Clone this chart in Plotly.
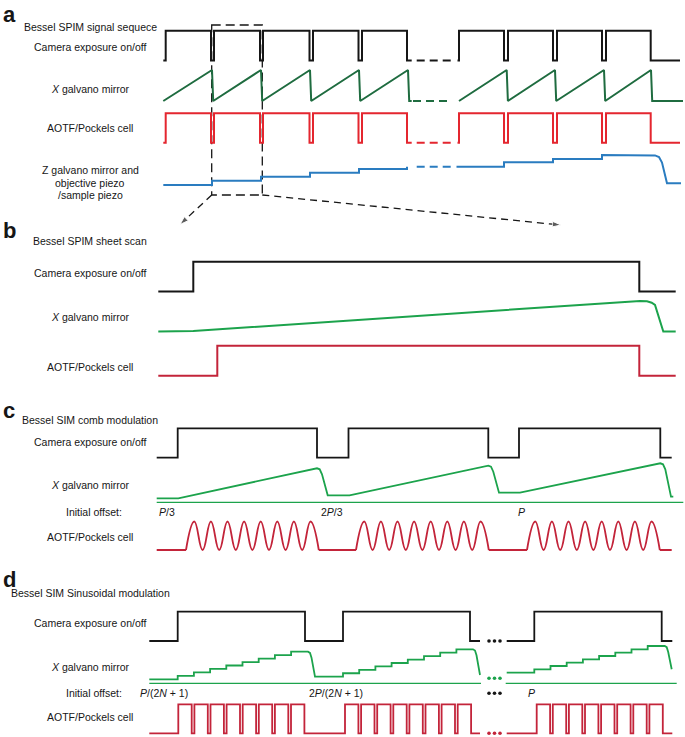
import plotly.graph_objects as go

W, H = 685, 737
FONT = "Liberation Sans, Arial, sans-serif"
LETTER_FONT = "Liberation Sans, Arial, sans-serif"

BLACK = "#161616"
A_GREEN = "#1f6c40"
A_RED = "#e4262f"
A_BLUE = "#2a7cc0"
GREEN = "#1ca34c"
RED = "#c3243a"

# ---- data: time on a common arbitrary axis, every signal level scaled 0..1 ----
# a  Bessel SPIM signal sequence
a_t_start, a_t_end = 163.3, 681
a_break = [411.7, 457.5]
a_gap_dash = [416.7, 451.7]
a_cam_rise_1 = [165.7, 214, 263, 313, 362]
a_cam_fall_1 = [211, 260, 309.5, 358.5, 407]
a_cam_rise_2 = [459, 508, 557, 606]
a_cam_fall_2 = [504, 553, 602, 650.7]
a_galvo_peak_1 = [212, 261, 310, 359, 408]
a_galvo_peak_2 = [506.7, 555, 604, 651]
a_z_step_1 = [212, 261, 310, 359]
a_z_level_1 = [0, 0.143, 0.277, 0.41, 0.533]
a_z_step_2 = [504, 553, 602]
a_z_level_2 = [0.61, 0.757, 0.867, 1.0]
a_z_tail_t = [648, 655, 659, 662, 667, 681]
a_z_tail_v = [1.0, 0.985, 0.93, 0.75, 0.06, 0.06]

# b  Bessel SPIM sheet scan
b_t = [158.3, 675.7]
b_cam_edges = [193.3, 639.3]
b_aotf_edges = [217.3, 639.3]
b_galvo_t = [158.3, 193.3, 640, 647, 651.7, 655, 663.3, 675.7]
b_galvo_v = [0, 0.016, 1.0, 0.99, 0.944, 0.87, 0, 0]

# c  Bessel SIM comb modulation
c_t = [156.7, 671.7]
c_cam_rise = [177.7, 348.5, 519]
c_cam_fall = [317, 488.3, 660.3]
c_ramp_start = [178.3, 349.5, 520]
c_ramp_flat = [0.1, 0.175, 0.24]
c_ramp_peak = [0.85, 0.915, 0.975]
c_ramp_last_drop, c_ramp_tail = 0.14, 673.3
c_offset_span = [156.7, 683.3]
c_comb_start = [186, 356, 527]
c_comb_cycles, c_comb_period = 8, 16.6
c_offset_text = ["<i>P</i>/3", "2<i>P</i>/3", "<i>P</i>"]
c_offset_t = [159.3, 320.5, 518.3]

# d  Bessel SIM sinusoidal modulation
d_t_1, d_t_2 = [149.3, 480], [506.7, 672.3]
d_cam_rise = [177.7, 343, 534.3]
d_cam_fall = [305, 470, 661.7]
d_dots_t = [489, 494.5, 500]
d_stair_low = [0.1, 0.165, 0.265]
d_stair_top = [0.79, 0.85, 0.9325]
d_stair_drop = [0.165, 0.2075, 0.35]
d_stairs, d_stair_period = 8, 16.2
d_offset_spans = [[149.3, 481], [505.7, 676.7]]
d_pulse_rise = [178.3, 345, 536.7]
d_pulses, d_pulse_period, d_pulse_dip = 8, 16.1, 2.7
d_offset_text = ["<i>P</i>/(2<i>N</i> + 1)", "2<i>P</i>/(2<i>N</i> + 1)", "<i>P</i>"]
d_offset_t = [140, 309, 527.7]

a_text = ["Bessel SPIM signal sequece", "Camera exposure on/off", "<i>X</i> galvano mirror",
          "AOTF/Pockels cell", "Z galvano mirror and", "objective piezo", "/sample piezo"]
b_text = ["Bessel SPIM sheet scan", "Camera exposure on/off", "<i>X</i> galvano mirror",
          "AOTF/Pockels cell"]
c_text = ["Bessel SIM comb modulation", "Camera exposure on/off", "<i>X</i> galvano mirror",
          "Initial offset:", "AOTF/Pockels cell"]
d_text = ["Bessel SIM Sinusoidal modulation", "Camera exposure on/off", "<i>X</i> galvano mirror",
          "Initial offset:", "AOTF/Pockels cell"]


def square(t0, rises, falls, t1):
    t, v = [t0], [0]
    for r, f in zip(rises, falls):
        t += [r, r, f, f]
        v += [0, 1, 1, 0]
    return t + [t1], v + [0]


def joined(*parts):
    t, v = [], []
    for pt, pv in parts:
        if t:
            t.append(None)
            v.append(None)
        t += pt
        v += pv
    return t, v


# row placement on the page: pixel of level 0 and of level 1
rows = {
    "a_cam": (60.5, 30.7), "a_galvo": (101, 70), "a_aotf": (142.7, 113.3), "a_z": (185, 155),
    "b_cam": (291.5, 261.7), "b_galvo": (331.5, 301), "b_aotf": (375.7, 345.7),
    "c_cam": (457.7, 428.3), "c_galvo": (502.3, 462.3), "c_aotf": (550, 521.5),
    "d_cam": (641, 611.7), "d_galvo": (683.3, 643.3), "d_aotf": (733.3, 704.3),
}

fig = go.Figure()
layout_axes = {}
row_axis = {}
for i, (name, (lo, hi)) in enumerate(rows.items(), start=2):
    span = lo - hi
    bottom = min(lo + 0.25 * span, H)
    top = max(hi - 0.25 * span, 0)
    layout_axes[f"yaxis{i}"] = dict(
        domain=[1 - bottom / H, 1 - top / H],
        range=[(lo - bottom) / span, (lo - top) / span],
        visible=False, fixedrange=True, anchor="x",
    )
    row_axis[name] = f"y{i}"


def add(row, t, v, color, width=2.0, dash=None, shape="linear"):
    fig.add_trace(go.Scatter(
        x=t, y=v, mode="lines", yaxis=row_axis[row], hoverinfo="skip", showlegend=False,
        line=dict(color=color, width=width, dash=dash, shape=shape, smoothing=1.3),
    ))


def gap_dash(row, level, color, t=a_gap_dash):
    add(row, list(t), [level, level], color, dash="8px,5px")


def dots(row, level, color):
    fig.add_trace(go.Scatter(
        x=d_dots_t, y=[level] * len(d_dots_t), mode="markers", yaxis=row_axis[row],
        marker=dict(color=color, size=3.6), hoverinfo="skip", showlegend=False,
    ))


# ---------- a ----------
cam_a = joined(square(a_t_start, a_cam_rise_1, a_cam_fall_1, a_break[0]),
               square(a_break[1], a_cam_rise_2, a_cam_fall_2, a_t_end - 1))
add("a_cam", *cam_a, BLACK)
gap_dash("a_cam", 0, BLACK)
add("a_aotf", *cam_a, A_RED)
gap_dash("a_aotf", 0, A_RED)


def saw(t0, peaks, t1):
    t, v = [t0], [0]
    for p in peaks:
        t += [p, p + 1.2]
        v += [1, 0]
    return t + [t1], v + [0]


add("a_galvo", *joined(saw(a_t_start, a_galvo_peak_1, a_break[0]),
                       saw(a_cam_rise_2[0], a_galvo_peak_2, a_t_end + 2)), A_GREEN)
gap_dash("a_galvo", 0, A_GREEN, [413, 451.7])


def stairs(t0, steps, levels, t1):
    t, v = [t0], [levels[0]]
    for s, lo, hi in zip(steps, levels[:-1], levels[1:]):
        t += [s, s]
        v += [lo, hi]
    return t + [t1], v + [levels[-1]]


z1 = stairs(a_t_start, a_z_step_1, a_z_level_1, a_cam_fall_1[-1])
z1 = (z1[0] + [a_cam_fall_1[-1]], z1[1] + [a_z_level_2[0]])
z2 = stairs(a_break[1] - 1, a_z_step_2, a_z_level_2, a_z_tail_t[0])
z2 = (z2[0] + a_z_tail_t[1:], z2[1] + a_z_tail_v[1:])
add("a_z", *joined(z1, z2), A_BLUE)
gap_dash("a_z", a_z_level_2[0], A_BLUE)

# ---------- b ----------
add("b_cam", *square(b_t[0], [b_cam_edges[0]], [b_cam_edges[1]], b_t[1]), BLACK)
add("b_galvo", b_galvo_t, b_galvo_v, GREEN)
add("b_aotf", *square(b_t[0], [b_aotf_edges[0]], [b_aotf_edges[1]], b_t[1]), RED)

# ---------- c ----------
add("c_cam", *square(c_t[0], c_cam_rise, c_cam_fall, c_t[1]), BLACK, 1.8)

t, v = [c_t[0]], [c_ramp_flat[0]]
for k, (r, f, pk) in enumerate(zip(c_ramp_start, c_cam_fall, c_ramp_peak)):
    nxt = c_ramp_flat[k + 1] if k + 1 < len(c_ramp_flat) else c_ramp_last_drop
    t += [r, f, f + 2.7, f + 5, f + 10.7]
    v += [c_ramp_flat[k], pk, pk - 0.025, pk - 0.15, nxt]
t.append(c_ramp_tail)
v.append(c_ramp_last_drop)
add("c_galvo", t, v, GREEN, 1.8)
add("c_galvo", c_offset_span, [0, 0], GREEN, 1.3)

half = c_comb_period / 2
flat_t, flat_v, wave_t, wave_v = [c_t[0]], [0], [], []
for s in c_comb_start:
    e = s + c_comb_cycles * c_comb_period
    flat_t += [s, None, e]
    flat_v += [0, None, 0]
    wave_t += [s + k * half for k in range(2 * c_comb_cycles + 1)] + [None]
    wave_v += [k % 2 for k in range(2 * c_comb_cycles + 1)] + [None]
flat_t.append(c_t[1])
flat_v.append(0)
add("c_aotf", flat_t, flat_v, RED, 1.8)
add("c_aotf", wave_t, wave_v, RED, 1.8, shape="spline")

# ---------- d ----------
add("d_cam", *joined(square(d_t_1[0], d_cam_rise[:2], d_cam_fall[:2], d_t_1[1]),
                     square(d_t_2[0], d_cam_rise[2:], d_cam_fall[2:], d_t_2[1])), BLACK, 1.8)
dots("d_cam", 0, BLACK)

parts = []
t, v = [d_t_1[0]], [d_stair_low[0]]
for k in range(3):
    if k == 2:
        parts.append((t, v))
        t, v = [d_t_2[0]], [d_stair_low[2]]
    lo, hi = d_stair_low[k], d_stair_top[k]
    h = (hi - lo) / d_stairs
    for j in range(d_stairs):
        s = d_cam_rise[k] + j * d_stair_period
        t += [s, s]
        v += [lo + j * h, lo + (j + 1) * h]
    f = d_cam_fall[k]
    t += [f + 3, f + 5, f + 6.5, f + 10]
    v += [hi, hi - 0.03, hi - 0.15, d_stair_drop[k]]
parts.append((t, v))
add("d_galvo", *joined(*parts), GREEN, 1.8)
for span in d_offset_spans:
    add("d_galvo", span, [0, 0], GREEN, 1.3)
dots("d_galvo", 0.125, GREEN)

rises, falls = [], []
for r0 in d_pulse_rise:
    for j in range(d_pulses):
        rises.append(r0 + j * d_pulse_period)
        falls.append(r0 + (j + 1) * d_pulse_period - d_pulse_dip)
n = 2 * d_pulses
add("d_aotf", *joined(square(d_t_1[0], rises[:n], falls[:n], d_t_1[1]),
                      square(d_t_2[0], rises[n:], falls[n:], d_t_2[1])), RED, 1.8)
dots("d_aotf", 0, RED)

# ---------- frame: zoom box, arrows, text ----------
fig.add_shape(type="rect", xref="x", yref="y", x0=211.7, x1=262.3, y0=25, y1=195,
              line=dict(color=BLACK, width=1.3, dash="9px,5px"), layer="below")
for (x0, y0, x1, y1) in [(211.7, 195, 180, 224.5), (262.3, 195, 561, 225)]:
    fig.add_trace(go.Scatter(
        x=[x0, x1], y=[y0, y1], mode="lines+markers", yaxis="y",
        line=dict(color=BLACK, width=1.3, dash="7px,5px"),
        marker=dict(symbol="arrow", size=[0, 9], angleref="previous", color=BLACK),
        hoverinfo="skip", showlegend=False,
    ))
fig.add_trace(go.Scatter(x=d_dots_t, y=[693.3] * 3, mode="markers", yaxis="y",
                         marker=dict(color=BLACK, size=3.6), hoverinfo="skip", showlegend=False))

notes = []


def text(s, x, y, size=10.5, xanchor="center", family=FONT):
    notes.append(dict(text=s, x=x, y=y, xref="x", yref="y", showarrow=False,
                      xanchor=xanchor, yanchor="middle",
                      font=dict(family=family, size=size, color=BLACK)))


for s, y in zip(a_text, [27.3, 46.7, 89.3, 128.3, 170, 182.7, 195]):
    text(s, 90, y)
for s, y in zip(b_text, [240.7, 273.3, 316.7, 366.7]):
    text(s, 90, y)
for s, y in zip(c_text, [420, 441.7, 485, 511.7, 536.7]):
    text(s, 94 if s.startswith("Initial") else 90, y)
for s, y in zip(d_text, [593.3, 623.3, 666.7, 692.7, 716.7]):
    text(s, 94 if s.startswith("Initial") else 90, y)
for s, x in zip(c_offset_text, c_offset_t):
    text(s, x - 2, 511.7, xanchor="left")
for s, x in zip(d_offset_text, d_offset_t):
    text(s, x - 2, 692.7, xanchor="left")
for s, y in zip("abcd", [14, 230.4, 410.7, 579]):
    text(f"<b>{s}</b>", 0.5, y, size=22, xanchor="left", family=LETTER_FONT)

fig.update_layout(
    width=W, height=H, margin=dict(l=0, r=0, t=0, b=0),
    paper_bgcolor="white", plot_bgcolor="rgba(0,0,0,0)",
    xaxis=dict(range=[0, W], domain=[0, 1], visible=False, fixedrange=True),
    yaxis=dict(range=[H, 0], domain=[0, 1], visible=False, fixedrange=True),
    annotations=notes, **layout_axes,
)

fig.write_html("out.html", config={"displayModeBar": False},
               post_script="document.body.style.margin='0';")
